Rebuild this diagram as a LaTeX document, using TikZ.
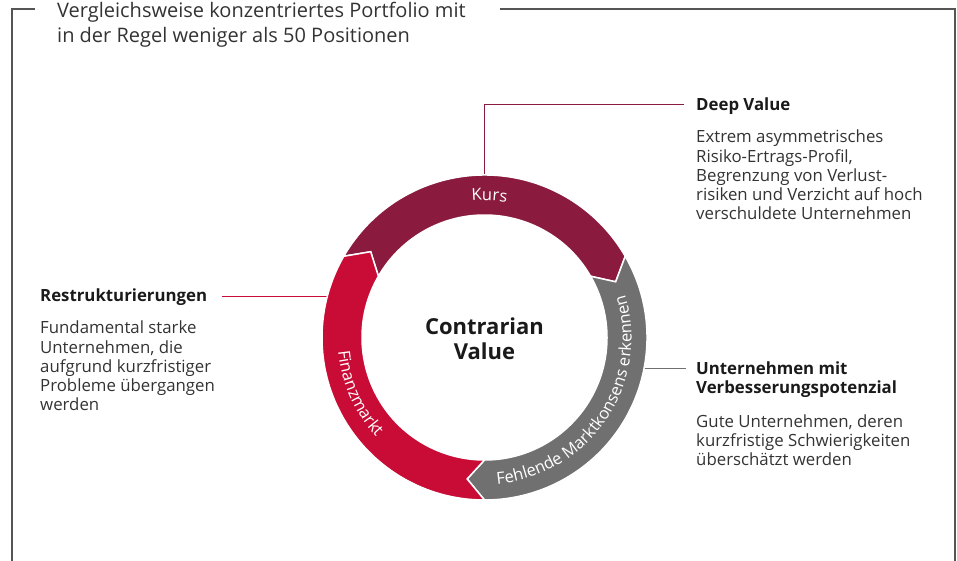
\documentclass[tikz,border=0pt]{standalone}
\usepackage{fontspec}
\setmainfont{Open Sans}
\usepackage{xcolor}
\usetikzlibrary{decorations.text}
\definecolor{vblack}{HTML}{1A1A1A}
\definecolor{vtext}{HTML}{333333}
\definecolor{vframe}{HTML}{555555}
\definecolor{vkurs}{HTML}{8A1B3E}
\definecolor{vred}{HTML}{C80C36}
\definecolor{vgray}{HTML}{707070}

\tikzset{
	headtext/.style = {anchor = west, inner sep = 0pt, text = vblack, font = \fontsize{16.8}{21.5}\selectfont\bfseries},
	bodytext/.style = {anchor = north west, inner sep = 0pt, align = left, text = vtext, font = \fontsize{16.8}{19.2}\selectfont},
	ringseg/.style = {draw = white, line width = 1.5pt},
	leader/.style = {line width = 0.9pt},
}

\begin{document}
\begin{tikzpicture}[x = 1pt, y = 1pt]
	\useasboundingbox (0,0) rectangle (957,560);
	% frame
	\draw[vframe, line width = 1.3pt] (35,551) -- (12,551) -- (12,-2);
	\draw[vframe, line width = 1.3pt] (500,551) -- (955,551) -- (955,-2);
	\node[anchor = base west, inner sep = 0pt, align = left, text = vtext, font = \fontsize{20}{25}\selectfont] (intro) at (57,517) {Vergleichsweise konzentriertes Portfolio mit\\in der Regel weniger als 50 Positionen};
	% ring anchors
	\begin{scope}[shift = {(484.5,222.5)}]
		\coordinate (kursTop) at (90:162);
		\coordinate (finLeft) at (180:158);
		\coordinate (konsRight) at (0:158);
	\end{scope}
	% texts
	\node[headtext, text depth = 0pt] (deep) at (696,456) {Deep Value};
	\node[bodytext] (deepTxt) at (696,430) {Extrem asymmetrisches\\Risiko-Ertrags-Profil,\\Begrenzung von Verlust-\\risiken und Verzicht auf hoch\\verschuldete Unternehmen};
	\node[headtext] (restr) at (40,263.3) {Restrukturierungen};
	\node[bodytext] (restrTxt) at (40,239) {Fundamental starke\\Unternehmen, die\\aufgrund kurzfristiger\\Probleme übergangen\\werden};
	\node[headtext] (impr) at (696,191.7) {Unternehmen mit};
	\node[headtext, anchor = base west] (imprB) at (696,167) {Verbesserungspotenzial};
	\node[bodytext] (imprTxt) at (696,145.4) {Gute Unternehmen, deren\\kurzfristige Schwierigkeiten\\überschätzt werden};
	% leaders
	\draw[leader, vkurs] (kursTop) |- ([xshift = -12pt]deep.west);
	\draw[leader, vred] ([xshift = 15pt]restr.east) -- (restr.east -| finLeft);
	\draw[leader, vgray] (impr.west -| konsRight) -- ([xshift = -10pt]impr.west);
	% ring
	\begin{scope}[shift = {(484.5,222.5)}]
		\filldraw[ringseg, fill = vkurs] (150:162.5) arc[start angle = 150, end angle = 30, radius = 162.5] -- (23:142.5) -- (30:122.5) arc[start angle = 30, end angle = 150, radius = 122.5] -- (143:142.5) -- cycle;
		\filldraw[ringseg, fill = vgray] (30:162.5) arc[start angle = 30, end angle = -90, radius = 162.5] -- (-97:142.5) -- (-90:122.5) arc[start angle = -90, end angle = 30, radius = 122.5] -- (23:142.5) -- cycle;
		\filldraw[ringseg, fill = vred] (-90:162.5) arc[start angle = -90, end angle = -210, radius = 162.5] -- (-217:142.5) -- (-210:122.5) arc[start angle = -210, end angle = -90, radius = 122.5] -- (-97:142.5) -- cycle;
		% arc labels
		\path[decorate, decoration = {text along path, text align = center, text = {|\fontsize{16.5}{20}\selectfont\color{white}|Kurs}}] (168:137) arc[start angle = 168, end angle = 8, radius = 137];
		\path[decorate, decoration = {text along path, text align = center, text = {|\fontsize{16.5}{20}\selectfont\color{white}|Fehlende Marktkonsens erkennen}}] (-124:147) arc[start angle = -124, end angle = 56, radius = 147];
		\path[decorate, decoration = {text along path, text align = center, text = {|\fontsize{16.5}{20}\selectfont\color{white}|Finanzmarkt}}] (114:147) arc[start angle = 114, end angle = 294, radius = 147];
		\node[align = center, text = vblack, font = \fontsize{22}{25}\selectfont\bfseries] (core) at (0,-1) {Contrarian\\Value};
	\end{scope}
\end{tikzpicture}
\end{document}
